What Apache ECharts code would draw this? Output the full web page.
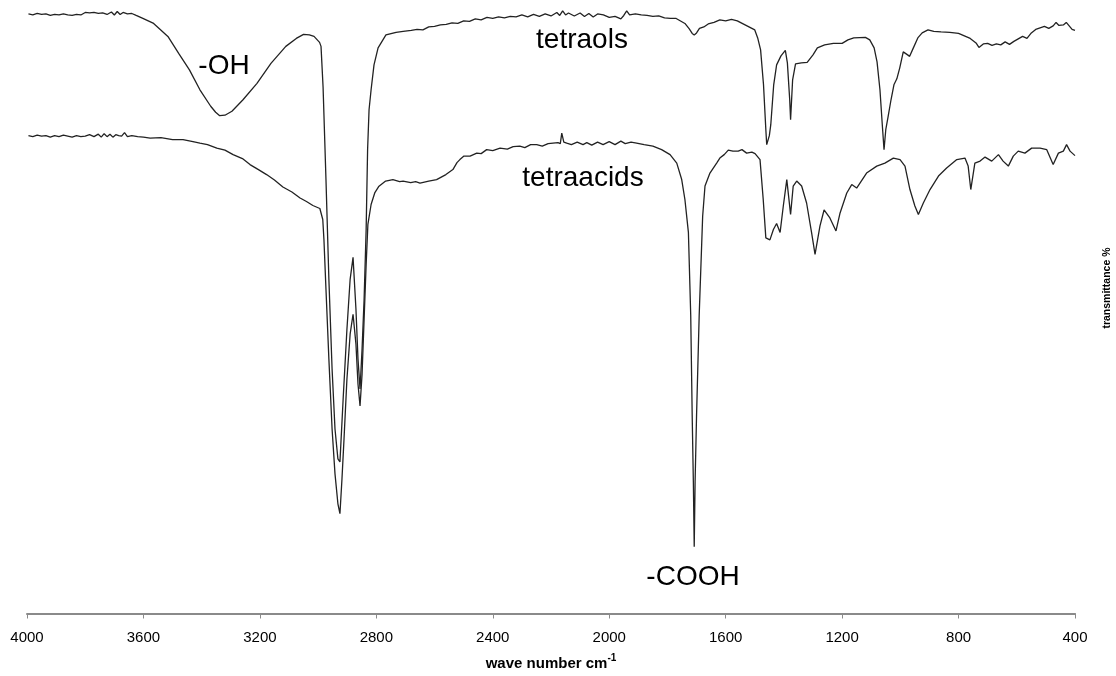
<!DOCTYPE html>
<html>
<head>
<meta charset="utf-8">
<script src="https://cdn.jsdelivr.net/npm/echarts@6/dist/echarts.min.js"></script>
<style>
html,body{margin:0;padding:0;background:#fff;}
#chart{width:1116px;height:676px;}
</style>
</head>
<body>
<div id="chart"></div>
<script>
// x axis ticks (wave number, cm-1)
const xTicks = [4000, 3600, 3200, 2800, 2400, 2000, 1600, 1200, 800, 400];

// series names
const seriesNames = ["tetraols", "tetraacids"];

// tetraols: [wave number, transmittance (arbitrary offset units)]
const tetraols = [
[3995,120.2],[3980,120.0],[3965,120.3],[3950,120.1],[3935,120.2],[3920,119.9],[3905,120.1],[3890,120.0],
[3875,120.2],[3860,120.0],[3845,119.9],[3830,120.1],[3815,120.0],[3800,120.5],[3785,120.4],[3770,120.5],
[3755,120.3],[3740,120.4],[3725,120.1],[3710,120.6],[3700,120.0],[3690,120.7],[3680,120.1],[3670,120.5],
[3655,120.2],[3640,120.3],[3625,119.9],[3602,119.3],[3565,118.3],[3516,115.7],[3479,112.3],[3442,109.0],
[3406,105.0],[3369,101.7],[3352,100.5],[3338,99.8],[3320,99.9],[3296,100.7],[3258,103.0],[3210,106.3],[3162,110.3],[3111,113.7],
[3075,115.3],[3050,116.1],[3030,116.0],[3014,115.7],[2995,114.5],[2990,113.7],[2983,105.6],[2973,87],[2963,67],[2952,49],
[2942,37],[2932,31],[2925,30.4],[2914,43],[2901,57],[2890,67],[2880,71.4],[2870,61],[2863,51],
[2856,45],[2849,53],[2842,63],[2835,77],[2830,93],[2825,101],[2818,105],[2808,110],[2794,113.4],
[2767,116.0],[2732,116.5],[2708,116.7],[2680,116.9],[2660,117.1],[2640,117.0],[2620,117.6],[2600,117.7],
[2580,118.0],[2560,118.1],[2540,118.4],[2520,118.3],[2500,118.8],[2480,118.7],[2460,119.2],[2440,119.0],
[2420,119.5],[2400,119.3],[2380,119.6],[2360,119.4],[2340,119.7],[2320,119.6],[2300,120.0],[2280,119.6],
[2260,120.1],[2240,119.7],[2220,120.2],[2200,119.8],[2180,120.5],[2170,119.9],[2160,120.8],[2150,120.0],
[2140,120.4],[2120,119.8],[2100,120.4],[2085,119.7],[2070,120.3],[2055,119.6],[2040,120.2],[2020,120.0],
[2000,119.5],[1980,119.7],[1960,119.2],[1950,119.9],[1940,120.8],[1930,120.0],[1910,120.2],[1890,120.0],
[1870,119.9],[1850,119.7],[1830,119.8],[1810,119.4],[1790,119.3],[1770,119.3],[1755,118.8],[1740,118.3],
[1725,117.2],[1715,116.3],[1708,116.0],[1700,116.4],[1690,117.3],[1675,117.6],[1660,118.2],[1640,118.5],
[1620,119.0],[1600,118.8],[1580,119.1],[1560,118.8],[1540,118.2],[1520,117.6],[1500,117.0],[1490,115.4],
[1480,113],[1470,106],[1462,97],[1459,94],[1450,95.8],[1445,98],[1435,106],[1425,110],[1410,111.8],
[1395,112.9],[1388,110.4],[1380,103],[1377,99],[1370,107],[1360,110.2],[1340,110.4],[1320,110.5],
[1300,112.0],[1285,113.4],[1260,114.0],[1230,114.3],[1200,114.3],[1180,115.0],[1160,115.4],[1120,115.5],
[1105,115.0],[1090,113.4],[1080,110.6],[1070,105],[1062,98],[1056,93],[1050,97],[1042,99.6],[1032,103],
[1022,106],[1012,107.2],[1002,109.4],[990,112.6],[985,113.0],[975,112.0],[968,111.7],[956,113.3],[940,115.4],
[925,116.4],[905,117.0],[885,116.7],[860,116.6],[830,116.5],[800,116.3],[780,115.8],[760,115.3],[740,114.4],
[730,113.5],[715,114.2],[700,114.3],[685,113.9],[670,114.2],[655,114.0],[640,114.6],[625,114.1],[610,114.7],
[595,115.2],[580,115.7],[565,115.3],[550,116.4],[535,117.1],[520,117.4],[505,117.7],[490,117.3],[475,117.8],
[465,118.5],[455,117.9],[440,118.0],[430,118.5],[420,117.8],[410,117.1],[400,116.9]
];

// tetraacids: [wave number, transmittance (arbitrary offset units)]
const tetraacids = [
[3995,95.8],[3980,95.6],[3965,95.9],[3950,95.7],[3935,95.8],[3920,95.5],[3905,95.8],[3890,95.6],
[3875,95.9],[3860,95.7],[3845,95.5],[3830,95.8],[3815,95.6],[3800,95.7],[3785,96.0],[3770,95.6],
[3755,96.1],[3745,95.5],[3735,96.2],[3725,95.6],[3715,96.1],[3705,95.5],[3695,96.0],[3685,95.8],
[3675,95.7],[3665,96.4],[3655,95.6],[3640,95.8],[3620,95.6],[3600,95.5],[3577,95.3],[3540,95.4],
[3500,95.0],[3464,95.0],[3430,94.6],[3406,94.3],[3380,94.0],[3348,93.3],[3320,92.9],[3292,92.0],
[3260,91.2],[3234,90.0],[3205,89.0],[3177,88.0],[3150,86.9],[3121,85.5],[3090,84.5],[3062,83.3],
[3040,82.6],[3018,81.8],[2994,81.2],[2984,79.0],[2980,75],[2973,65],[2963,51],[2952,37],[2942,28],
[2932,22],[2925,20],[2918,27],[2911,35],[2901,47],[2890,56],[2880,60],[2870,54],[2863,46],[2856,41.6],
[2849,48],[2842,59],[2835,70],[2829,78],[2818,82],[2805,84.4],[2792,85.6],[2768,86.7],[2743,87.0],
[2720,86.6],[2708,86.7],[2682,86.4],[2665,86.6],[2650,86.3],[2635,86.5],[2620,86.7],[2593,87.0],
[2561,88.0],[2537,89.0],[2523,90.4],[2513,91.0],[2499,91.7],[2478,91.7],[2455,92.3],[2440,92.2],
[2421,93.0],[2400,92.8],[2375,93.3],[2350,93.1],[2330,93.6],[2307,93.7],[2290,93.4],[2270,94.0],
[2249,94.0],[2230,93.7],[2210,94.2],[2193,94.3],[2176,94.4],[2168,94.2],[2163,96.3],[2156,94.5],
[2146,94.3],[2130,94.0],[2110,94.5],[2090,94.0],[2077,94.4],[2060,93.9],[2040,94.5],[2021,94.0],
[2000,94.6],[1980,94.0],[1960,94.7],[1945,94.2],[1925,94.5],[1906,94.3],[1880,94.0],[1850,93.7],
[1820,93.0],[1791,92.0],[1768,90.3],[1751,87.0],[1740,83],[1728,76.4],[1720,59.7],[1715,39.7],
[1711,26.4],[1708,13.4],[1705,26.4],[1700,39.7],[1691,59.7],[1679,79.7],[1671,85.7],[1654,88.3],
[1631,90.3],[1620,91.3],[1605,92.0],[1591,92.9],[1575,92.7],[1557,92.7],[1544,93.0],[1528,92.3],
[1510,92.5],[1499,92.2],[1482,91.0],[1471,83],[1462,75.3],[1448,74.9],[1436,77],[1425,78.2],
[1413,76.4],[1402,81.7],[1390,87],[1377,80],[1368,85.7],[1356,86.7],[1339,85.7],[1322,82.3],
[1305,76.4],[1293,72],[1276,77.7],[1262,80.9],[1242,79.3],[1221,76.7],[1207,80.3],[1184,84.3],
[1167,86],[1150,85.3],[1116,88.3],[1081,89.7],[1053,90.3],[1024,91.3],[1001,91.0],[984,89.7],
[967,85],[950,81.7],[938,80],[921,82.3],[898,85],[869,87.7],[841,89.3],[806,91],[778,91.3],
[767,89.7],[758,85],[744,90.3],[726,90.7],[709,91.5],[686,90.7],[663,92],[647,90.7],[629,89.7],
[612,91.7],[595,92.7],[572,92.3],[549,93.3],[520,93.3],[497,93],[475,90],[457,92.3],[440,92.7],
[429,94],[417,92.7],[400,91.8]
];

// annotation texts
const labels = ["tetraols", "tetraacids", "-OH", "-COOH"];

const chart = echarts.init(document.getElementById('chart'), null, {renderer: 'canvas'});
const FONT = '"Liberation Sans", Arial, sans-serif';

const option = {
  animation: false,
  backgroundColor: '#ffffff',
  grid: {left: 27, right: 41, top: 0, bottom: 61, containLabel: false},
  xAxis: {
    type: 'value',
    inverse: true,
    min: xTicks[xTicks.length - 1],
    max: xTicks[0],
    interval: 400,
    name: 'wave number cm{sup|-1}',
    nameLocation: 'middle',
    nameGap: 40,
    nameTextStyle: {
      fontFamily: FONT, fontSize: 15, fontWeight: 'bold', color: '#000',
      rich: {sup: {fontFamily: FONT, fontSize: 10, fontWeight: 'bold', color: '#000', padding: [0, 0, 10, 0]}}
    },
    axisLine: {show: true, onZero: false, lineStyle: {color: '#8a8a8a', width: 2}},
    axisTick: {show: true, length: 5, lineStyle: {color: '#8a8a8a', width: 1}},
    axisLabel: {fontFamily: FONT, fontSize: 15, color: '#000', margin: 17,
      formatter: function (v) { return String(v); }},
    splitLine: {show: false}
  },
  yAxis: {
    type: 'value',
    min: 0,
    max: 123,
    show: false
  },
  series: [
    {name: seriesNames[0], type: 'line', data: tetraols, showSymbol: false, symbol: 'none',
     lineStyle: {color: '#222222', width: 1.3}, silent: true},
    {name: seriesNames[1], type: 'line', data: tetraacids, showSymbol: false, symbol: 'none',
     lineStyle: {color: '#222222', width: 1.3}, silent: true}
  ],
  graphic: [
    {type: 'text', x: 582, y: 40, style: {text: labels[0], font: '28px ' + FONT, fill: '#000', textAlign: 'center', textVerticalAlign: 'middle'}},
    {type: 'text', x: 583, y: 178, style: {text: labels[1], font: '28px ' + FONT, fill: '#000', textAlign: 'center', textVerticalAlign: 'middle'}},
    {type: 'text', x: 224, y: 66, style: {text: labels[2], font: '28px ' + FONT, fill: '#000', textAlign: 'center', textVerticalAlign: 'middle'}},
    {type: 'text', x: 693, y: 577, style: {text: labels[3], font: '28px ' + FONT, fill: '#000', textAlign: 'center', textVerticalAlign: 'middle'}},
    {type: 'text', x: 1107, y: 288, rotation: Math.PI / 2,
     style: {text: 'transmittance %', font: 'bold 10.5px ' + FONT, fill: '#000', textAlign: 'center', textVerticalAlign: 'middle'}}
  ]
};
chart.setOption(option);
</script>
</body>
</html>
